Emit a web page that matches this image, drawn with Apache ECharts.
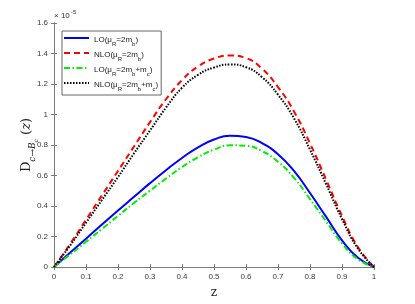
<!DOCTYPE html>
<html>
<head>
<meta charset="utf-8">
<script src="https://cdn.jsdelivr.net/npm/echarts@6/dist/echarts.min.js"></script>
<style>html,body{margin:0;padding:0;background:#fff;}#c{width:415px;height:304px;}</style>
</head>
<body>
<div id="c"></div>
<script>
// z values
var zValues = [0, 0.05, 0.1, 0.15, 0.2, 0.25, 0.3, 0.35, 0.4, 0.45, 0.5, 0.55, 0.6, 0.65, 0.7, 0.75, 0.8, 0.85, 0.9, 0.95, 1];
// D(z) in units of 1e-5
var loMb = [0, 0.093, 0.186, 0.278, 0.370, 0.46, 0.55, 0.635, 0.715, 0.785, 0.836, 0.861, 0.853, 0.812, 0.74, 0.63, 0.485, 0.33, 0.175, 0.06, 0];
var nloMb = [0, 0.15, 0.31, 0.47, 0.63, 0.79, 0.95, 1.10, 1.225, 1.315, 1.367, 1.387, 1.37, 1.30, 1.18, 1.02, 0.81, 0.575, 0.335, 0.13, 0];
var loMbMc = [0, 0.082, 0.165, 0.25, 0.335, 0.42, 0.50, 0.58, 0.655, 0.72, 0.77, 0.798, 0.795, 0.76, 0.69, 0.585, 0.445, 0.30, 0.155, 0.05, 0];
var nloMbMc = [0, 0.14, 0.29, 0.44, 0.59, 0.745, 0.895, 1.045, 1.175, 1.26, 1.308, 1.328, 1.31, 1.245, 1.13, 0.975, 0.77, 0.545, 0.315, 0.12, 0];
var xTicks = [0, 0.1, 0.2, 0.3, 0.4, 0.5, 0.6, 0.7, 0.8, 0.9, 1];
var yTicks = [0, 0.2, 0.4, 0.6, 0.8, 1, 1.2, 1.4, 1.6];
var seriesNames = ['LO1', 'NLO1', 'LO2', 'NLO2'];
var legendText = {
  LO1: '{t|LO(μ}{s|R}{t|=2m}{s|b}{t|)}',
  NLO1: '{t|NLO(μ}{s|R}{t|=2m}{s|b}{t|)}',
  LO2: '{t|LO(μ}{s|R}{t|=2m}{s|b}{t|+m}{s|c}{t|)}',
  NLO2: '{t|NLO(μ}{s|R}{t|=2m}{s|b}{t|+m}{s|c}{t|)}'
};

function zip(ys) { return zValues.map(function (z, i) { return [z, ys[i]]; }); }

var axisCol = '#7a7a7a';
var labelCol = '#3a3a3a';
var font = 'Liberation Sans, Arial, sans-serif';

var chart = echarts.init(document.getElementById('c'), null, {renderer: 'canvas'});
var common = {
  type: 'line', showSymbol: false, symbol: 'none', smooth: 0.5, animation: false
};
var serif = 'DejaVu Serif, serif';
chart.setOption({
  animation: false,
  backgroundColor: '#fff',
  grid: {left: 54, right: 41, top: 23, bottom: 35, containLabel: false},
  xAxis: [{
    type: 'value', min: 0, max: 1, interval: 0.1,
    name: 'z', nameLocation: 'middle', nameGap: 20, nameMoveOverlap: false,
    nameTextStyle: {fontFamily: serif, fontSize: 12, color: '#222'},
    axisLine: {lineStyle: {color: axisCol, width: 1}},
    axisTick: {inside: true, length: 3, lineStyle: {color: axisCol}},
    axisLabel: {fontFamily: font, fontSize: 8, color: labelCol, margin: 6,
      formatter: function (v) { return String(Math.round(v * 10) / 10); }},
    splitLine: {show: false}
  }, {
    type: 'value', min: 0, max: 1, interval: 0.1, position: 'top',
    axisLine: {show: true, lineStyle: {color: axisCol, width: 1}},
    axisTick: {inside: true, length: 3, lineStyle: {color: axisCol}},
    axisLabel: {show: false}, splitLine: {show: false}
  }],
  yAxis: [{
    type: 'value', min: 0, max: 1.6, interval: 0.2,
    name: '{d|D}{s|c→B}{ss|c}{p| (}{i|z}{p|)}', nameLocation: 'middle', nameGap: 21, nameRotate: 90,
    nameMoveOverlap: false,
    nameTextStyle: {
      color: '#222',
      rich: {
        d: {fontFamily: serif, fontSize: 13, color: '#222', verticalAlign: 'bottom', lineHeight: 16},
        s: {fontFamily: serif, fontStyle: 'italic', fontSize: 9, color: '#222', verticalAlign: 'bottom', lineHeight: 16, padding: [0, 0, -4, 0]},
        ss: {fontFamily: serif, fontStyle: 'italic', fontSize: 6, color: '#222', verticalAlign: 'bottom', lineHeight: 16, padding: [0, 0, -6, 0]},
        p: {fontFamily: serif, fontSize: 13, color: '#222', verticalAlign: 'bottom', lineHeight: 16},
        i: {fontFamily: serif, fontStyle: 'italic', fontSize: 13, color: '#222', verticalAlign: 'bottom', lineHeight: 16}
      }
    },
    axisLine: {show: true, lineStyle: {color: axisCol, width: 1}},
    axisTick: {show: true, inside: true, length: 3, lineStyle: {color: axisCol}},
    axisLabel: {fontFamily: font, fontSize: 8, color: labelCol, margin: 6,
      formatter: function (v) { return String(Math.round(v * 10) / 10); }},
    splitLine: {show: false}
  }, {
    type: 'value', min: 0, max: 1.6, interval: 0.2, position: 'right',
    axisLine: {show: true, lineStyle: {color: axisCol, width: 1}},
    axisTick: {show: true, inside: true, length: 3, lineStyle: {color: axisCol}},
    axisLabel: {show: false}, splitLine: {show: false}
  }],
  legend: {
    orient: 'vertical', left: 62, top: 31, padding: [3, 3, 3, 1],
    backgroundColor: '#fff', borderColor: '#666', borderWidth: 1,
    itemWidth: 25, itemHeight: 10, itemGap: 2,
    itemStyle: {opacity: 0, borderWidth: 0},
    data: seriesNames,
    formatter: function (n) { return legendText[n]; },
    textStyle: {
      rich: {
        t: {fontFamily: font, fontSize: 8, color: '#222', lineHeight: 12, verticalAlign: 'bottom'},
        s: {fontFamily: font, fontSize: 6, color: '#222', lineHeight: 12, verticalAlign: 'bottom', padding: [0, 0, -3, 0]}
      }
    }
  },
  graphic: [{
    type: 'text', left: 54, top: 12,
    style: {text: '× 10', font: '8px Liberation Sans, Arial, sans-serif', fill: '#333'}
  }, {
    type: 'text', left: 71, top: 9,
    style: {text: '-5', font: '6px Liberation Sans, Arial, sans-serif', fill: '#333'}
  }],
  series: [
    Object.assign({name: 'LO1', data: zip(loMb), lineStyle: {color: '#0000ff', width: 2, type: 'solid'}, itemStyle: {color: '#0000ff'}}, common),
    Object.assign({name: 'NLO1', data: zip(nloMb), lineStyle: {color: '#ff0000', width: 2, type: [6, 4]}, itemStyle: {color: '#ff0000'}}, common),
    Object.assign({name: 'LO2', data: zip(loMbMc), lineStyle: {color: '#00ee00', width: 2, type: [6, 2.5, 1.5, 2.5]}, itemStyle: {color: '#00ee00'}}, common),
    Object.assign({name: 'NLO2', data: zip(nloMbMc), lineStyle: {color: '#000000', width: 2, type: [1.5, 1.5]}, itemStyle: {color: '#000000'}}, common)
  ]
});
</script>
</body>
</html>
